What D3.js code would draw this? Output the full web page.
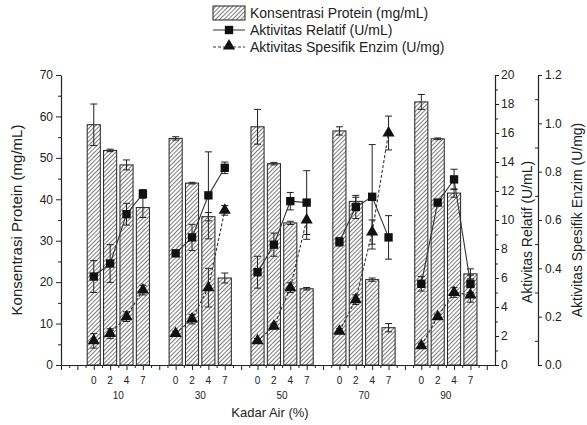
<!DOCTYPE html>
<html>
<head>
<meta charset="utf-8">
<script src="https://cdn.jsdelivr.net/npm/d3@7"></script>
<style>
  body { margin: 0; background: #fff; }
  svg text { font-family: "Liberation Sans", Arial, sans-serif; fill: #222; }
</style>
</head>
<body>
<div id="chart"></div>
<script>
// data
var groups = ["10", "30", "50", "70", "90"];
var subLabels = ["0", "2", "4", "7"];
var protein = [[58, 51.8, 48.3, 38], [54.7, 43.9, 35.8, 21], [57.5, 48.6, 34.3, 18.4], [56.5, 39.5, 20.6, 9], [63.5, 54.6, 41.5, 22]];
var proteinErr = [[5, 0.3, 1.2, 2.4], [0.4, 0.2, 1, 1.2], [4.2, 0.3, 0.4, 0.3], [1, 1, 0.4, 1], [1.8, 0.2, 1, 1.2]];
var relatif = [[6.1, 7.0, 10.4, 11.8], [7.7, 8.8, 11.7, 13.6], [6.4, 8.3, 11.3, 11.2], [8.5, 10.9, 11.6, 8.8], [5.6, 11.2, 12.8, 5.6]];
var relatifErr = [[1.1, 1.3, 0.75, 0.3], [0.2, 0.9, 3.0, 0.4], [1.1, 0.8, 0.6, 2.2], [0.3, 0.8, 3.6, 1.5], [0.5, 0.2, 0.7, 0.6]];
var spesifik = [[0.1, 0.13, 0.2, 0.31], [0.13, 0.19, 0.32, 0.64], [0.1, 0.16, 0.32, 0.6], [0.14, 0.27, 0.55, 0.96], [0.08, 0.2, 0.3, 0.29]];
var spesifikErr = [[0.03, 0.02, 0.02, 0.02], [0.01, 0.02, 0.08, 0.02], [0.01, 0.01, 0.02, 0.08], [0.01, 0.02, 0.05, 0.07], [0.01, 0.01, 0.02, 0.03]];

var width = 587, height = 425;
var mLeft = 61, mRight = 495, mTop = 75, mBottom = 365;

var svg = d3.select('#chart').append('svg').attr('width', width).attr('height', height);

var defs = svg.append('defs');
var pat = defs.append('pattern').attr('id', 'hatch').attr('patternUnits', 'userSpaceOnUse')
  .attr('width', 3).attr('height', 3).attr('patternTransform', 'rotate(45)');
pat.append('rect').attr('width', 3).attr('height', 3).attr('fill', '#fff');
pat.append('line').attr('x1', 0).attr('y1', 0).attr('x2', 0).attr('y2', 3)
  .attr('stroke', '#444').attr('stroke-width', 1.4);

// scales
var x = d3.scaleLinear().domain([0, 26.5]).range([mLeft, mRight]);
var yL = d3.scaleLinear().domain([0, 70]).range([mBottom, mTop]);
var yR1 = d3.scaleLinear().domain([0, 20]).range([mBottom, mTop]);
var yR2 = d3.scaleLinear().domain([0, 1.2]).range([mBottom, mTop]);

function pos(g, b) { return 2 + g * 5 + b; }
var bw = 0.8;

// flatten
var points = [];
groups.forEach(function(gName, g) {
  subLabels.forEach(function(s, b) {
    points.push({g: g, b: b, p: protein[g][b], pe: proteinErr[g][b],
      r: relatif[g][b], re: relatifErr[g][b], s: spesifik[g][b], se: spesifikErr[g][b]});
  });
});

// bars
svg.append('g').selectAll('rect').data(points).enter().append('rect')
  .attr('x', function(d) { return x(pos(d.g, d.b) - bw / 2); })
  .attr('width', x(bw) - x(0))
  .attr('y', function(d) { return yL(d.p); })
  .attr('height', function(d) { return mBottom - yL(d.p); })
  .attr('fill', 'url(#hatch)')
  .attr('stroke', '#222').attr('stroke-width', 1);

function errBars(sel, data, xf, yScale, v, e, cap) {
  var g = sel.append('g').attr('stroke', '#222').attr('stroke-width', 1);
  data.forEach(function(d) {
    var cx = xf(d), y1 = yScale(d[v] + d[e]), y2 = yScale(d[v] - d[e]);
    g.append('line').attr('x1', cx).attr('x2', cx).attr('y1', y1).attr('y2', y2);
    g.append('line').attr('x1', cx - cap).attr('x2', cx + cap).attr('y1', y1).attr('y2', y1);
    g.append('line').attr('x1', cx - cap).attr('x2', cx + cap).attr('y1', y2).attr('y2', y2);
  });
}
var px = function(d) { return x(pos(d.g, d.b)); };
errBars(svg, points, px, yL, 'p', 'pe', 3.5);

// lines
groups.forEach(function(gName, g) {
  var pts = points.filter(function(d) { return d.g === g; });
  svg.append('path').datum(pts)
    .attr('d', d3.line().x(px).y(function(d) { return yR1(d.r); }))
    .attr('fill', 'none').attr('stroke', '#333').attr('stroke-width', 1.1);
  svg.append('path').datum(pts)
    .attr('d', d3.line().x(px).y(function(d) { return yR2(d.s); }))
    .attr('fill', 'none').attr('stroke', '#333').attr('stroke-width', 1.1).attr('stroke-dasharray', '3,2');
});

errBars(svg, points, px, yR1, 'r', 're', 3.5);
errBars(svg, points, px, yR2, 's', 'se', 3.5);

var sq = d3.symbol().type(d3.symbolSquare).size(70);
var tri = d3.symbol().type(d3.symbolTriangle).size(64);
svg.append('g').selectAll('path').data(points).enter().append('path')
  .attr('d', sq)
  .attr('transform', function(d) { return 'translate(' + px(d) + ',' + yR1(d.r) + ')'; })
  .attr('fill', '#111');
svg.append('g').selectAll('path').data(points).enter().append('path')
  .attr('d', tri)
  .attr('transform', function(d) { return 'translate(' + px(d) + ',' + yR2(d.s) + ')'; })
  .attr('fill', '#111');

// axes
function styleAxis(g) {
  g.select('.domain').attr('stroke', '#222').attr('stroke-width', 1.2);
  g.selectAll('.tick line').attr('stroke', '#222').attr('stroke-width', 1);
  g.selectAll('.tick text').attr('font-size', 12).attr('fill', '#222');
}
function minor(g) {
  g.select('.domain').remove();
  g.selectAll('.tick text').remove();
  g.selectAll('.tick line').attr('stroke', '#222');
}

svg.append('g').attr('transform', 'translate(' + mLeft + ',0)')
  .call(d3.axisLeft(yL).tickValues(d3.range(5, 70, 10)).tickSize(3)).call(minor);
svg.append('g').attr('transform', 'translate(' + mLeft + ',0)')
  .call(d3.axisLeft(yL).tickValues(d3.range(0, 71, 10)).tickSize(5).tickSizeOuter(0).tickPadding(3)).call(styleAxis);

svg.append('g').attr('transform', 'translate(' + mRight + ',0)')
  .call(d3.axisRight(yR1).tickValues(d3.range(1, 20, 2)).tickSize(3)).call(minor);
svg.append('g').attr('transform', 'translate(' + mRight + ',0)')
  .call(d3.axisRight(yR1).tickValues(d3.range(0, 21, 2)).tickSize(4).tickSizeOuter(0).tickPadding(2)).call(styleAxis);

var ax2 = 538;
svg.append('g').attr('transform', 'translate(' + ax2 + ',0)')
  .call(d3.axisRight(yR2).tickValues(d3.range(1, 12, 2).map(function(v) { return v / 10; })).tickSize(-3)).call(minor);
svg.append('g').attr('transform', 'translate(' + ax2 + ',0)')
  .call(d3.axisRight(yR2).tickValues(d3.range(0, 13, 2).map(function(v) { return v / 10; }))
    .tickFormat(d3.format('.1f')).tickSize(4).tickSizeOuter(0).tickPadding(3)).call(styleAxis);

// x axis
svg.append('g').attr('transform', 'translate(0,' + mBottom + ')')
  .call(d3.axisBottom(x).tickValues(d3.range(0.5, 26.5, 1)).tickSize(3)).call(minor);
svg.append('g').attr('transform', 'translate(0,' + mBottom + ')')
  .call(d3.axisBottom(x).tickValues(d3.range(0, 27, 1)).tickSize(5).tickSizeOuter(0).tickFormat(''))
  .call(styleAxis);

svg.append('g').selectAll('text').data(points).enter().append('text')
  .attr('x', px).attr('y', 384).attr('text-anchor', 'middle')
  .attr('font-size', 10).text(function(d) { return subLabels[d.b]; });
svg.append('g').selectAll('text').data(groups).enter().append('text')
  .attr('x', function(d, g) { return x(pos(g, 1.5)); }).attr('y', 399).attr('text-anchor', 'middle')
  .attr('font-size', 10).text(function(d) { return d; });

// titles
svg.append('text').attr('x', (mLeft + mRight) / 2 - 8).attr('y', 417).attr('text-anchor', 'middle')
  .attr('font-size', 13).text('Kadar Air (%)');
svg.append('text').attr('transform', 'translate(22,' + (mTop + mBottom) / 2 + ') rotate(-90)')
  .attr('text-anchor', 'middle').attr('font-size', 15).text('Konsentrasi Protein (mg/mL)');
svg.append('text').attr('transform', 'translate(532,' + ((mTop + mBottom) / 2 + 12) + ') rotate(-90)')
  .attr('text-anchor', 'middle').attr('font-size', 14).text('Aktivitas Relatif (U/mL)');
svg.append('text').attr('transform', 'translate(582,' + ((mTop + mBottom) / 2) + ') rotate(-90)')
  .attr('text-anchor', 'middle').attr('font-size', 14).text('Aktivitas Spesifik Enzim (U/mg)');

// legend
var lg = svg.append('g').attr('transform', 'translate(213,0)');
lg.append('rect').attr('x', 0).attr('y', 6).attr('width', 32).attr('height', 14)
  .attr('fill', 'url(#hatch)').attr('stroke', '#222');
lg.append('line').attr('x1', 0).attr('x2', 32).attr('y1', 30).attr('y2', 30).attr('stroke', '#333');
lg.append('path').attr('d', sq).attr('transform', 'translate(16,30)').attr('fill', '#111');
lg.append('line').attr('x1', 0).attr('x2', 32).attr('y1', 47).attr('y2', 47)
  .attr('stroke', '#333').attr('stroke-dasharray', '3,2');
lg.append('path').attr('d', tri).attr('transform', 'translate(16,46)').attr('fill', '#111');
var ltext = ['Konsentrasi Protein (mg/mL)', 'Aktivitas Relatif (U/mL)', 'Aktivitas Spesifik Enzim (U/mg)'];
lg.selectAll('text.l').data(ltext).enter().append('text')
  .attr('x', 37).attr('y', function(d, i) { return 18 + i * 17; })
  .attr('font-size', 14).text(function(d) { return d; });
</script>
</body>
</html>
